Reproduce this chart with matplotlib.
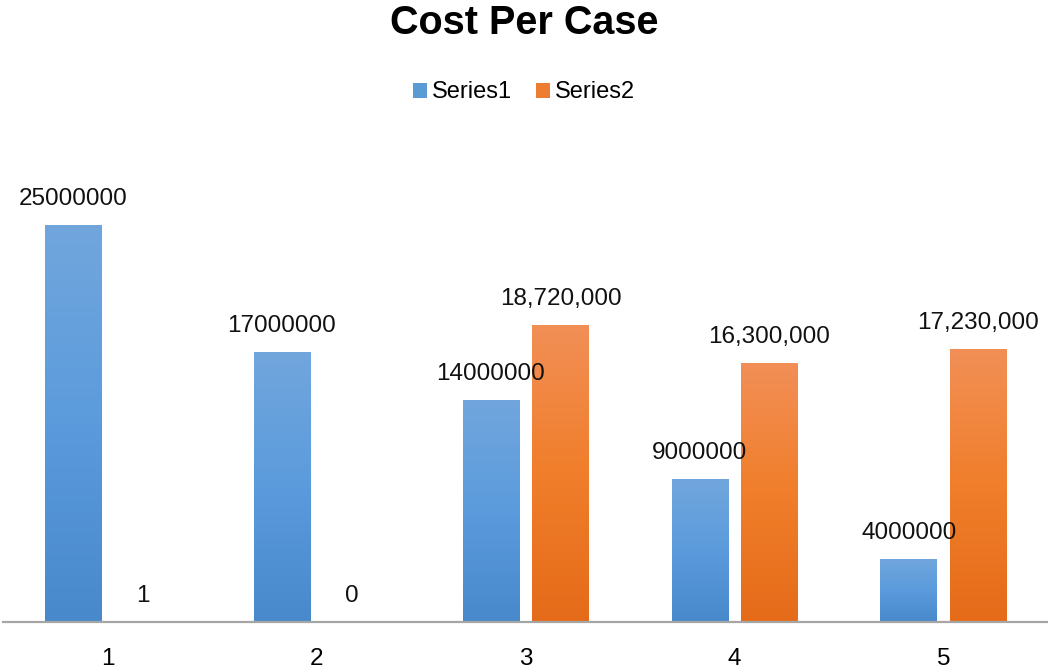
'''
Cost per case grouped bar chart
'''
import numpy as np
import matplotlib.pyplot as plt
from matplotlib.colors import LinearSegmentedColormap
from matplotlib.patches import Patch

categories = ['1', '2', '3', '4', '5']
series1 = [25000000, 17000000, 14000000, 9000000, 4000000]
series2 = [1, 0, 18720000, 16300000, 17230000]
series1_labels = ['25000000', '17000000', '14000000', '9000000', '4000000']
series2_labels = ['1', '0', '18,720,000', '16,300,000', '17,230,000']

plt.rcParams['font.family'] = ['Liberation Sans', 'DejaVu Sans']

blue_cmap = LinearSegmentedColormap.from_list('blue', ['#4889CB', '#5B9BDD', '#71A6DC'])
orange_cmap = LinearSegmentedColormap.from_list('orange', ['#E56B19', '#F07E2A', '#F28F57'])


def gradient_bars(ax, xs, heights, width, cmap):
    '''draw bars filled with a vertical gradient (top light, bottom dark)'''
    grad = np.linspace(0, 1, 256).reshape(-1, 1)
    bars = ax.bar(xs, heights, width, color='none', edgecolor='none')
    for bar in bars:
        x0, y0 = bar.get_x(), bar.get_y()
        w, h = bar.get_width(), bar.get_height()
        if h <= 0:
            continue
        im = ax.imshow(grad, extent=[x0, x0 + w, y0, y0 + h], origin='lower',
                       aspect='auto', cmap=cmap, zorder=2)
        im.set_clip_path(bar)
    return bars


fig = plt.figure(figsize=(10.48, 6.7), dpi=100)
ax = fig.add_axes([0.0033, 0.0716, 0.9967, 0.7104])

x = np.arange(len(categories))
width = 0.27
off = 0.167

bars1 = gradient_bars(ax, x - off, series1, width, blue_cmap)
bars2 = gradient_bars(ax, x + off, series2, width, orange_cmap)

for xi, v, lab in zip(x - off, series1, series1_labels):
    ax.annotate(lab, (xi, v), xytext=(0, 15), textcoords='offset pixels',
                ha='center', va='bottom', fontsize=17.5, color='#111111')
for xi, v, lab in zip(x + off, series2, series2_labels):
    ax.annotate(lab, (xi, v), xytext=(0, 15), textcoords='offset pixels',
                ha='center', va='bottom', fontsize=17.5, color='#111111')

ax.set_xlim(-0.5, len(categories) - 0.5)
ax.set_ylim(0, 30000000)
ax.set_xticks(x)
ax.set_xticklabels(categories, fontsize=17.5)
ax.tick_params(axis='x', length=0, pad=19)
ax.set_yticks([])
for side in ['top', 'left', 'right']:
    ax.spines[side].set_visible(False)
ax.spines['bottom'].set_color('#A6A6A6')
ax.spines['bottom'].set_linewidth(1.6)

fig.text(0.5, 0.965, 'Cost Per Case', ha='center', va='center',
         fontsize=28.5, fontweight='bold')

handles = [Patch(facecolor='#5B9BD5', label='Series1'),
           Patch(facecolor='#ED7D31', label='Series2')]
fig.legend(handles=handles, loc='center', bbox_to_anchor=(0.5, 0.862), ncol=2,
           frameon=False, fontsize=17, handlelength=0.6, handleheight=0.6,
           handletextpad=0.2, columnspacing=1.0)

plt.savefig('out.png', dpi=100)
